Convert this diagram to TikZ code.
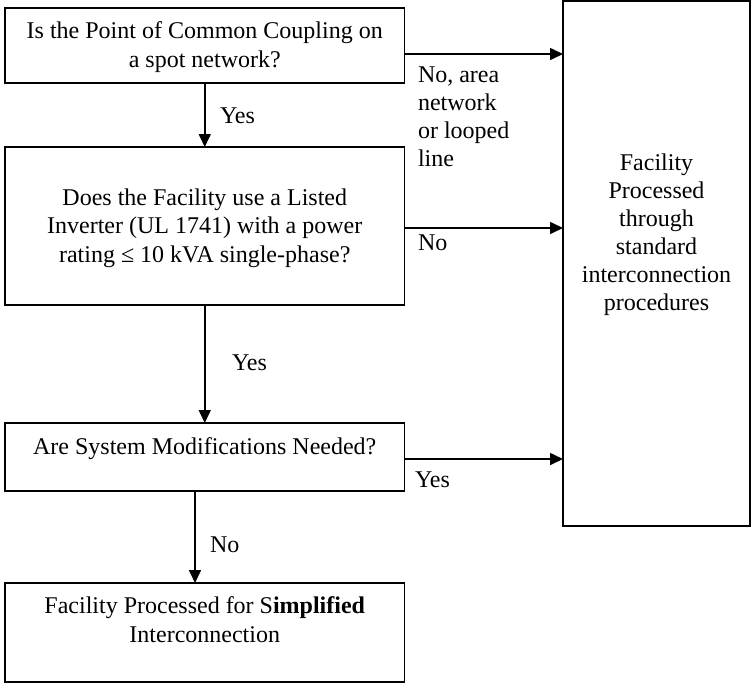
\documentclass[tikz,border=0pt]{standalone}
\usepackage{fontspec}
\setmainfont{Liberation Serif}
\usetikzlibrary{arrows.meta}
\begin{document}
\begin{tikzpicture}[x=1pt,y=-1pt,
  box/.style={draw=black,line width=1.6pt,rectangle,inner sep=0pt,outer sep=0pt},
  txt/.style={inner sep=0pt,outer sep=0pt,align=center,anchor=base,font=\fontsize{24}{28.5}\selectfont},
  lbl/.style={inner sep=0pt,outer sep=0pt,align=left,anchor=base west,font=\fontsize{24}{27.7}\selectfont},
  arr/.style={line width=1.6pt,-{Triangle[length=13pt,width=12pt]}}]
\useasboundingbox (0,0) rectangle (751,683);
% boxes
\node[box,minimum width=399.5,minimum height=75] (b1) at (204.75,45.5) {};
\node[box,minimum width=399.5,minimum height=158] (b2) at (204.75,226) {};
\node[box,minimum width=399.5,minimum height=68] (b3) at (204.75,457) {};
\node[box,minimum width=399.5,minimum height=99] (b4) at (204.75,632.5) {};
\node[box,minimum width=187,minimum height=525] (r) at (656.5,263.5) {};
% texts (anchor base = baseline of the last line)
\node[txt] (t1) at (204.75,67) {Is the Point of Common Coupling on\\a spot network?};
\node[txt] (t2) at (204.75,262) {Does the Facility use a Listed\\Inverter (UL 1741) with a power\\rating ≤ 10 kVA single-phase?};
\node[txt] (t3) at (204.75,454) {Are System Modifications Needed?};
\node[txt] (t4) at (204.75,642) {Facility Processed for S\textbf{implified}\\Interconnection};
\node[txt,font=\fontsize{24}{28}\selectfont] (tr) at (656.5,310) {Facility\\Processed\\through\\standard\\interconnection\\procedures};
% connector helper coordinates
\coordinate (h1) at (0,54);
\coordinate (h2) at (0,228);
\coordinate (h3) at (0,459);
% vertical arrows
\draw[arr] (b1.south) -- (b2.north);
\draw[arr] (b2.south) -- (b3.north);
\draw[arr] ([xshift=-9.75pt]b3.south) -- ([xshift=-9.75pt]b4.north);
% horizontal arrows
\draw[arr] (b1.east |- h1) -- (r.west |- h1);
\draw[arr] (b2.east |- h2) -- (r.west |- h2);
\draw[arr] (b3.east |- h3) -- (r.west |- h3);
% labels
\node[lbl] (l1) at (220,123) {Yes};
\node[lbl] (l2) at (418,166) {No, area\\network\\or looped\\line};
\node[lbl] (l3) at (418,250) {No};
\node[lbl] (l4) at (232,370) {Yes};
\node[lbl] (l5) at (415,487) {Yes};
\node[lbl] (l6) at (210,552) {No};
\end{tikzpicture}
\end{document}
